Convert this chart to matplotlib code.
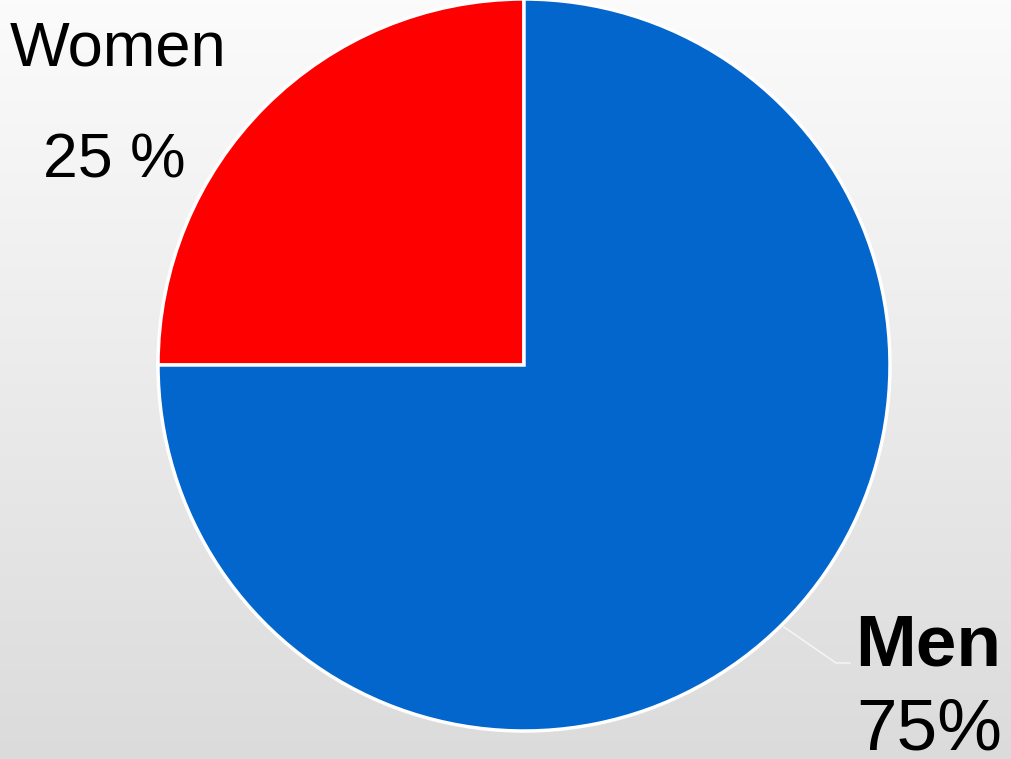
import numpy as np
import matplotlib
matplotlib.use("Agg")
import matplotlib.pyplot as plt

labels = ["Women", "Men"]
values = [25, 75]
pct_labels = ["25 %", "75%"]
colors = ["#ff0000", "#0366cc"]

W, H = 1012, 759
fig = plt.figure(figsize=(W / 100, H / 100), dpi=100)
ax = fig.add_axes([0, 0, 1, 1])
ax.set_xlim(0, W)
ax.set_ylim(0, H)
ax.axis("off")

# background gradient
grad = np.linspace(0, 1, 256).reshape(-1, 1)
top = np.array([0.985, 0.985, 0.985])
bot = np.array([0.86, 0.86, 0.86])
img = top + (bot - top) * grad[..., None]
img = img * np.ones((1, 2, 1))
ax.imshow(img, extent=[0, W, 0, H], aspect="auto", origin="upper", zorder=0)

cx, cy, r = 524, H - 365, 366
ax.pie(values, colors=colors, startangle=90, counterclock=True,
       center=(cx, cy), radius=r, frame=True,
       wedgeprops=dict(edgecolor="white", linewidth=2.5, zorder=2))
ax.set_xlim(0, W)
ax.set_ylim(0, H)
ax.set_aspect("auto")
ax.axis("off")

font = "Liberation Sans"
ax.text(10, H - 66, labels[0], fontsize=45.5, family=font, va="baseline", ha="left", zorder=3)
ax.text(43, H - 178, pct_labels[0], fontsize=45, family=font, va="baseline", ha="left", zorder=3)
ax.text(855, H - 665, labels[1], fontsize=52.5, family=font, fontweight="bold", va="baseline", ha="left", zorder=3)
ax.text(856, H - 750, pct_labels[1], fontsize=52.5, family=font, va="baseline", ha="left", zorder=3)

# leader line
ax.plot([784, 836, 850], [H - 627, H - 663, H - 663], color="#f4f4f4", lw=1.2, zorder=1.5)

fig.savefig("out.png", dpi=100)
